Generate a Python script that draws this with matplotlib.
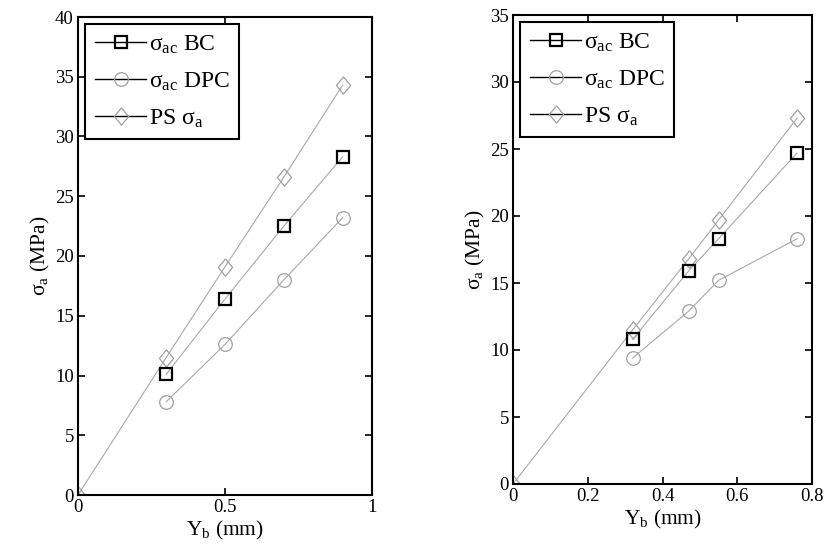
import matplotlib
matplotlib.use("Agg")
import matplotlib.pyplot as plt
from matplotlib.lines import Line2D

plt.rcParams['font.family'] = ['Liberation Serif', 'DejaVu Serif']
plt.rcParams['mathtext.fontset'] = 'custom'
plt.rcParams['mathtext.rm'] = 'Liberation Serif'
plt.rcParams['mathtext.it'] = 'Liberation Serif:italic'

# Left panel data
x_left = [0.3, 0.5, 0.7, 0.9]
bc_left = [10.1, 16.4, 22.5, 28.3]
dpc_left = [7.8, 12.6, 18.0, 23.2]
ps_x_left = [0.0, 0.3, 0.5, 0.7, 0.9]
ps_left = [0.0, 11.5, 19.1, 26.6, 34.3]
xticks_left = [0, 0.5, 1]
xticklabels_left = ['0', '0.5', '1']
yticks_left = [0, 5, 10, 15, 20, 25, 30, 35, 40]

# Right panel data
x_right = [0.32, 0.47, 0.55, 0.76]
bc_right = [10.8, 15.9, 18.3, 24.7]
dpc_right = [9.4, 12.9, 15.2, 18.3]
ps_x_right = [0.0, 0.32, 0.47, 0.55, 0.76]
ps_right = [0.0, 11.5, 16.8, 19.7, 27.3]
xticks_right = [0, 0.2, 0.4, 0.6, 0.8]
xticklabels_right = ['0', '0.2', '0.4', '0.6', '0.8']
yticks_right = [0, 5, 10, 15, 20, 25, 30, 35]

labels = [r'$\mathrm{σ_{ac}}$ BC', r'$\mathrm{σ_{ac}}$ DPC', r'PS $\mathrm{σ_a}$']

LINE = '#a8a8a8'
GRAY = '#a0a0a0'
DIAMOND = [(0, 1), (0.82, 0), (0, -1), (-0.82, 0), (0, 1)]

fig = plt.figure(figsize=(8.27, 5.45), dpi=100)
axL = fig.add_axes([78/827, 1-495/545, (372-78)/827, (495-17)/545])
axR = fig.add_axes([513/827, 1-484/545, (812-513)/827, (484-15)/545])

def draw(ax, x, bc, dpc, psx, ps, xt, xtl, yt, xlim, ylim):
    ax.plot(psx, ps, color=LINE, lw=0.8, marker=DIAMOND, ms=12.5, mfc='none', mec=GRAY, mew=0.9, zorder=2)
    ax.plot(x, dpc, color=LINE, lw=0.8, marker='o', ms=9.8, mfc='none', mec=GRAY, mew=0.9, zorder=2)
    ax.plot(x, bc, color=LINE, lw=0.8, marker='s', ms=9, mfc='none', mec='black', mew=1.6, zorder=3)
    ax.set_xlim(*xlim)
    ax.set_ylim(*ylim)
    ax.set_xticks(xt)
    ax.set_xticklabels(xtl)
    ax.set_yticks(yt)
    ax.tick_params(direction='in', top=True, right=True, length=5, width=1.2,
                   labelsize=13.5, pad=3)
    for s in ax.spines.values():
        s.set_linewidth(1.5)
    ax.set_xlabel(r'Y$_\mathrm{b}$ (mm)', fontsize=15.5, labelpad=2)
    ax.set_ylabel(r'$\mathrm{σ_a}$ (MPa)', fontsize=15.5, labelpad=2)
    handles = [
        Line2D([], [], color='black', lw=1.0, marker='s', ms=9, mfc='none', mec='black', mew=1.6),
        Line2D([], [], color='black', lw=1.0, marker='o', ms=9.8, mfc='none', mec=GRAY, mew=0.9),
        Line2D([], [], color='black', lw=1.0, marker=DIAMOND, ms=12.5, mfc='none', mec=GRAY, mew=0.9),
    ]
    leg = ax.legend(handles, labels, loc='upper left', fontsize=17, frameon=True,
                    fancybox=False, framealpha=1, edgecolor='black',
                    borderaxespad=0.3, handlelength=2.2, handletextpad=0.1,
                    labelspacing=0.62, borderpad=0.4)
    leg.get_frame().set_linewidth(1.5)

draw(axL, x_left, bc_left, dpc_left, ps_x_left, ps_left,
     xticks_left, xticklabels_left, yticks_left, (0, 1), (0, 40))
draw(axR, x_right, bc_right, dpc_right, ps_x_right, ps_right,
     xticks_right, xticklabels_right, yticks_right, (0, 0.8), (0, 35))

fig.savefig('out.png', dpi=100)
